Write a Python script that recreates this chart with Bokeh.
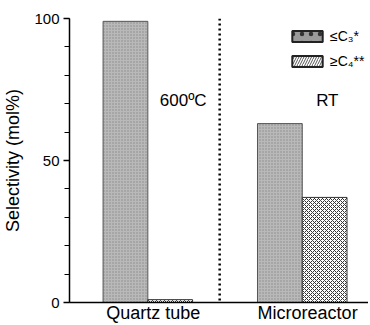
from bokeh.plotting import figure
from bokeh.models import (ColumnDataSource, FixedTicker, Range1d, Span, Label,
                          Legend, LegendItem)
from bokeh.embed import file_html
from bokeh.resources import INLINE

# ---- data ----
reactors = ["Quartz tube", "Microreactor"]
c3_values = [99, 63]   # <=C3 selectivity (mol%)
c4_values = [1, 37]    # >=C4 selectivity (mol%)
conditions = ["600ºC", "RT"]
series_labels = ["≤C₃*", "≥C₄**"]
y_ticks = [0, 50, 100]

# layout in data units
group_centers = [1.75, 5.2]
bar_w = 1.0
FONT = "Liberation Sans"

src3 = ColumnDataSource(dict(x=[c - bar_w / 2 for c in group_centers], top=c3_values))
src4 = ColumnDataSource(dict(x=[c + bar_w / 2 for c in group_centers], top=c4_values))

p = figure(width=368, height=325, output_backend="svg", toolbar_location=None,
           x_range=Range1d(0, 6.68), y_range=Range1d(0, 100),
           min_border_left=61, min_border_right=0, min_border_top=18,
           min_border_bottom=20)
p.outline_line_color = None
p.grid.visible = False
p.background_fill_color = "white"

r3 = p.vbar(x="x", top="top", width=bar_w, source=src3,
            fill_color="#b9b9b9", line_color="#555555", line_width=1,
            hatch_pattern="dot", hatch_color="#8a8a8a", hatch_scale=3, hatch_weight=0.6)
r4 = p.vbar(x="x", top="top", width=bar_w, source=src4,
            fill_color="#ffffff", line_color="#333333", line_width=1,
            hatch_pattern="diagonal_cross", hatch_color="#333333", hatch_scale=4,
            hatch_weight=1)

# legend-only renderers (thicker outline like the reference key); NaN tops draw nothing
nan = float("nan")
leg3 = ColumnDataSource(dict(x=[group_centers[0]], top=[nan]))
leg4 = ColumnDataSource(dict(x=[group_centers[1]], top=[nan]))
l3 = p.vbar(x="x", top="top", width=bar_w, source=leg3,
            fill_color="#9a9a9a", line_color="#222222", line_width=2,
            hatch_pattern="dot", hatch_color="#333333", hatch_scale=9, hatch_weight=1.2)
l4 = p.vbar(x="x", top="top", width=bar_w, source=leg4,
            fill_color="#ffffff", line_color="#222222", line_width=2,
            hatch_pattern="right_diagonal_line", hatch_color="#555555",
            hatch_scale=5, hatch_weight=1)

legend = Legend(items=[LegendItem(label=series_labels[0], renderers=[l3], index=0),
                       LegendItem(label=series_labels[1], renderers=[l4], index=0)],
                location=(219, 233), orientation="vertical",
                glyph_width=38, glyph_height=14, spacing=9, padding=0, margin=0,
                label_standoff=4, border_line_color=None, background_fill_alpha=0,
                label_text_font=FONT, label_text_font_size="14px",
                label_text_color="black", label_height=14)
p.add_layout(legend)

# divider
p.add_layout(Span(location=(group_centers[0] + group_centers[1]) / 2 - 0.12,
                  dimension="height", line_color="black", line_width=2.5,
                  line_dash="2 3"))

# condition labels
for cx, txt, dx in zip(group_centers, conditions, [0.79, 0.56]):
    p.add_layout(Label(x=cx + dx, y=71, text=txt, text_align="center",
                       text_baseline="middle", text_font=FONT,
                       text_font_size="17px", text_color="black"))

# axes
tick_pos = [c + 0.12 for c in group_centers]
p.xaxis.ticker = FixedTicker(ticks=tick_pos)
p.xaxis.major_label_overrides = {c: n for c, n in zip(tick_pos, reactors)}
p.xaxis.major_tick_line_color = None
p.xaxis.major_tick_out = 0
p.xaxis.major_tick_in = 0
p.xaxis.minor_tick_line_color = None
p.xaxis.axis_line_width = 1.5
p.xaxis.major_label_text_font = FONT
p.xaxis.major_label_text_font_size = "18px"
p.xaxis.major_label_text_color = "black"
p.xaxis.major_label_standoff = 0

p.yaxis.ticker = FixedTicker(ticks=y_ticks, minor_ticks=list(range(0, 101, 10)))
p.yaxis.axis_line_width = 1.5
p.yaxis.major_tick_in = 0
p.yaxis.major_tick_out = 6
p.yaxis.minor_tick_in = 0
p.yaxis.minor_tick_out = 5
p.yaxis.major_tick_line_width = 1.5
p.yaxis.major_label_text_font = FONT
p.yaxis.major_label_text_font_size = "15px"
p.yaxis.major_label_text_color = "black"
p.yaxis.major_label_standoff = 4
p.yaxis.axis_label = "Selectivity (mol%)"
p.yaxis.axis_label_text_font = FONT
p.yaxis.axis_label_text_font_style = "normal"
p.yaxis.axis_label_text_font_size = "18px"
p.yaxis.axis_label_text_color = "black"
p.yaxis.axis_label_standoff = 8
p.axis.axis_line_color = "black"

open("out.html", "w").write(file_html(p, INLINE))
